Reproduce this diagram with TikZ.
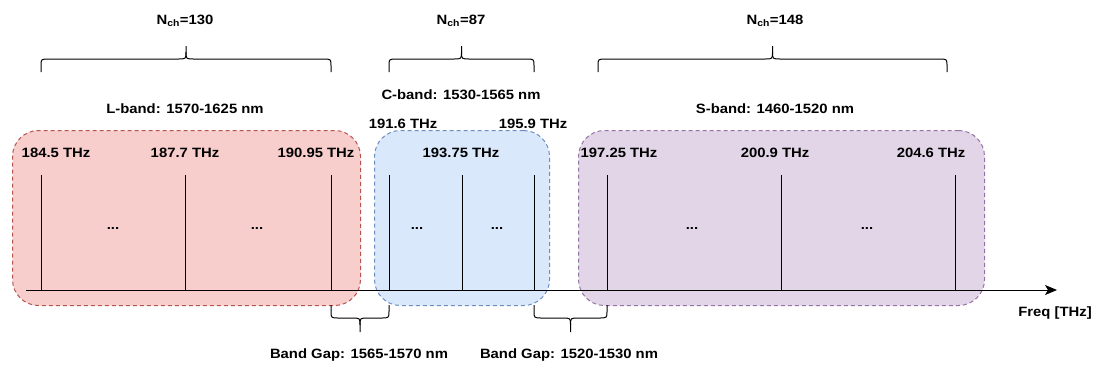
\documentclass[tikz,border=0pt]{standalone}
\usepackage{fontspec}
\setmainfont{Liberation Sans}[BoldFeatures={FakeStretch=1.1}]
\usetikzlibrary{arrows.meta}
\definecolor{redfill}{HTML}{F8CECC}
\definecolor{redline}{HTML}{B85450}
\definecolor{bluefill}{HTML}{DAE8FC}
\definecolor{blueline}{HTML}{6C8EBF}
\definecolor{purpfill}{HTML}{E1D5E7}
\definecolor{purpline}{HTML}{9673A6}
\tikzset{
  lbl/.style={font=\fontsize{13.5}{15}\selectfont\bfseries, inner sep=0pt},
  bandbox/.style={draw, dashed, line width=1pt, rounded corners=26pt, dash pattern=on 4pt off 3pt},
  tick/.style={line width=1pt, black},
  bracefig/.style={line width=1pt, black},
}
\newcommand{\topbrace}[3]{% x1 x2 ybottom
  \draw[bracefig] (#1,#3) -- (#1,#3-6) .. controls (#1,#3-13) .. (#1+8,#3-13)
    -- ({(#1+#2)/2-8},#3-13) .. controls ({(#1+#2)/2},#3-13) .. ({(#1+#2)/2},#3-20) -- ({(#1+#2)/2},#3-26);
  \draw[bracefig] (#2,#3) -- (#2,#3-6) .. controls (#2,#3-13) .. (#2-8,#3-13)
    -- ({(#1+#2)/2+8},#3-13) .. controls ({(#1+#2)/2},#3-13) .. ({(#1+#2)/2},#3-20);
}
\newcommand{\botbrace}[3]{% x1 x2 ytop
  \draw[bracefig] (#1,#3) -- (#1,#3+6) .. controls (#1,#3+13) .. (#1+8,#3+13)
    -- ({(#1+#2)/2-8},#3+13) .. controls ({(#1+#2)/2},#3+13) .. ({(#1+#2)/2},#3+20) -- ({(#1+#2)/2},#3+27);
  \draw[bracefig] (#2,#3) -- (#2,#3+6) .. controls (#2,#3+13) .. (#2-8,#3+13)
    -- ({(#1+#2)/2+8},#3+13) .. controls ({(#1+#2)/2},#3+13) .. ({(#1+#2)/2},#3+20);
}
\begin{document}
\begin{tikzpicture}[x=1pt,y=-1pt]
\useasboundingbox (0,0) rectangle (1095,365);
% band boxes
\node[bandbox, fill=redfill, draw=redline, minimum width=348pt, minimum height=175pt, anchor=north west] (lbox) at (12,130) {};
\node[bandbox, fill=bluefill, draw=blueline, minimum width=175pt, minimum height=175pt, anchor=north west] (cbox) at (374,130) {};
\node[bandbox, fill=purpfill, draw=purpline, minimum width=406pt, minimum height=175pt, anchor=north west] (sbox) at (578,130) {};
% axis
\coordinate (a0) at (26,290);
\coordinate (a1) at (1057,290);
\draw[line width=1pt, -{Stealth[length=12pt,width=10pt,inset=3pt]}] (a0) -- (a1);
% ticks
\foreach \x/\n in {41/t1,185/t2,331/t3,389/t4,462/t5,534/t6,607/t7,781/t8,955/t9}{
  \coordinate (\n b) at (\x,290);
  \coordinate (\n t) at (\x,175);
  \draw[tick] (\n b) -- (\n t);
}
% dots
\foreach \x/\n in {113/d1,257/d2,417/d3,497/d4,692/d5,867/d6}{
  \node[lbl] (\n) at (\x,228) {...};
}
% frequency labels
\node[lbl] (f1) at (56,153) {184.5 THz};
\node[lbl] (f2) at (185,153) {187.7 THz};
\node[lbl] (f3) at (316,153) {190.95 THz};
\node[lbl] (f4) at (403,124) {191.6 THz};
\node[lbl] (f5) at (461,153) {193.75 THz};
\node[lbl] (f6) at (533,124) {195.9 THz};
\node[lbl] (f7) at (619,153) {197.25 THz};
\node[lbl] (f8) at (775,153) {200.9 THz};
\node[lbl] (f9) at (931,153) {204.6 THz};
% band labels
\node[lbl] (lband) at (185,109) {L-band: 1570-1625 nm};
\node[lbl] (cband) at (461,95) {C-band: 1530-1565 nm};
\node[lbl] (sband) at (775,109) {S-band: 1460-1520 nm};
% top braces
\topbrace{41}{331}{72}
\topbrace{389}{534}{72}
\topbrace{598}{947}{72}
\node[lbl] (n1) at (185,21) {N\textsubscript{ch}=130};
\node[lbl] (n2) at (461,21) {N\textsubscript{ch}=87};
\node[lbl] (n3) at (775,21) {N\textsubscript{ch}=148};
% bottom braces
\botbrace{331}{389}{305}
\botbrace{534}{607}{305}
\node[lbl] (g1) at (359,355) {Band Gap: 1565-1570 nm};
\node[lbl] (g2) at (569,355) {Band Gap: 1520-1530 nm};
\node[lbl] (fq) at (1055,313) {Freq [THz]};
\end{tikzpicture}
\end{document}
